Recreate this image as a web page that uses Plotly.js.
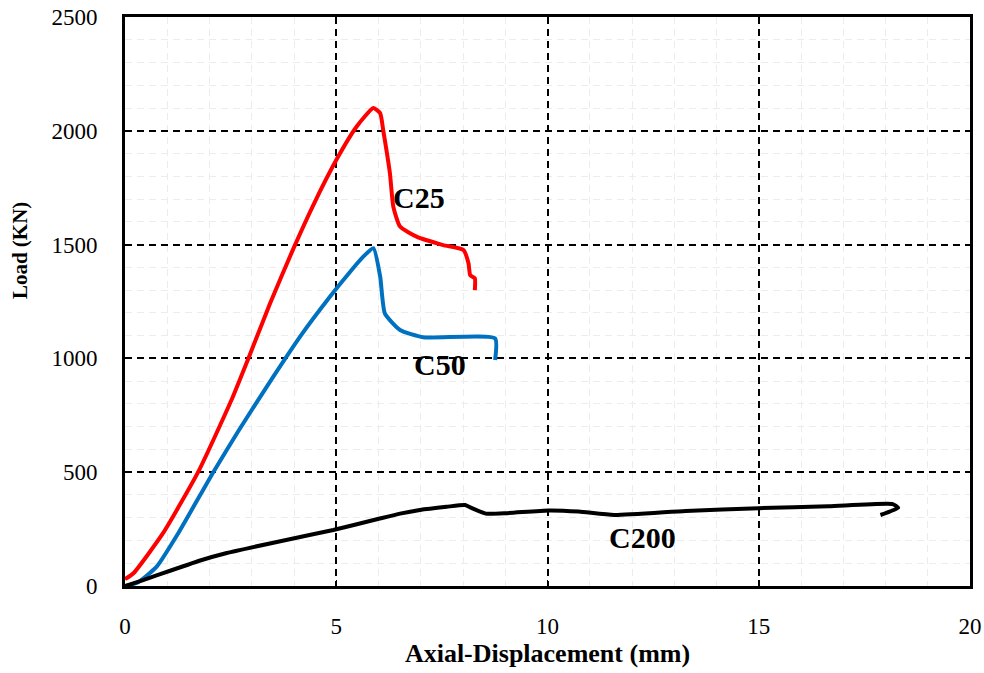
<!DOCTYPE html>
<html>
<head>
<meta charset="utf-8">
<script src="https://cdn.plot.ly/plotly-3.0.1.min.js"></script>
<style>html,body{margin:0;padding:0;background:#fff;}#chart{width:984px;height:673px;}</style>
</head>
<body>
<div id="chart"></div>
<script>
// C25 series
const c25X = [0, 0.2, 0.9, 1.73, 2.52, 2.92, 3.43, 3.98, 4.46, 5.01, 5.48, 5.88, 6.04, 6.11, 6.27, 6.35, 6.51, 6.90, 7.53, 8.01, 8.13, 8.17, 8.28, 8.28];
const c25Y = [30, 56, 232, 500, 817, 1000, 1240, 1480, 1675, 1875, 2018, 2100, 2077, 2004, 1813, 1667, 1579, 1535, 1498, 1476, 1418, 1366, 1352, 1300];
// C50 series
const c50X = [0, 0.3, 0.75, 1.26, 2.09, 2.68, 3.51, 4.14, 4.85, 5.33, 5.64, 5.88, 6.04, 6.15, 6.51, 7.06, 8.76, 8.76];
const c50Y = [0, 15, 85, 232, 500, 680, 920, 1095, 1271, 1381, 1447, 1484, 1359, 1198, 1125, 1093, 1088, 993];
// C200 series
const c200X = [0, 0.43, 1.78, 2.41, 3.98, 4.93, 5.96, 6.51, 6.98, 7.61, 8.05, 8.20, 8.54, 9.04, 10.02, 10.74, 11.58, 13.27, 15.0, 16.65, 18.17, 18.30, 17.88];
const c200Y = [0, 26, 112, 145, 209, 246, 293, 318, 334, 348, 356, 343, 318, 320, 332, 327, 312, 330, 342, 350, 360, 344, 312];
// Labels
const seriesNames = ["C25", "C50", "C200"];
const seriesColors = ["#FF0000", "#0070C0", "#000000"];
const labelX = [6.96, 7.46, 12.26];
const labelY = [1707, 975, 215];
const xTicks = [0, 5, 10, 15, 20];
const yTicks = [0, 500, 1000, 1500, 2000, 2500];

const xs = [c25X, c50X, c200X];
const ys = [c25Y, c50Y, c200Y];
const traces = seriesNames.map((n, i) => ({
  x: xs[i], y: ys[i], name: n, type: 'scatter', mode: 'lines',
  line: {color: seriesColors[i], width: 4, shape: 'spline', smoothing: 0.5}
}));

const font = {family: '"Liberation Serif", "Times New Roman", serif', color: '#000'};
const annotations = seriesNames.map((n, i) => ({
  x: labelX[i], y: labelY[i], xref: 'x', yref: 'y', text: '<b>' + n + '</b>',
  showarrow: false, font: Object.assign({}, font, {size: 30})
}));
annotations.push({
  x: -0.124, y: 0.589, xref: 'paper', yref: 'paper', text: '<b>Load (KN)</b>',
  textangle: -90, showarrow: false, xanchor: 'center', yanchor: 'middle',
  font: Object.assign({}, font, {size: 21})
});

const layout = {
  width: 984, height: 673,
  margin: {l: 125, r: 14, t: 17, b: 87},
  paper_bgcolor: '#fff', plot_bgcolor: '#fff',
  showlegend: false,
  font: font,
  xaxis: {
    range: [0, 20], tickvals: xTicks, ticktext: xTicks.map(String),
    showline: true, linecolor: '#000', linewidth: 3, mirror: true,
    ticks: 'inside', ticklen: 6, tickwidth: 1.5, tickcolor: '#000',
    ticklabelstandoff: 17,
    tickfont: Object.assign({}, font, {size: 23}),
    showgrid: true, gridcolor: '#000', gridwidth: 2, griddash: '7px,5px',
    minor: {dtick: 1, showgrid: true, gridcolor: '#ececec', gridwidth: 1, ticks: ''},
    zeroline: false,
    title: {text: '<b>Axial-Displacement (mm)</b>', font: Object.assign({}, font, {size: 26}), standoff: 3}
  },
  yaxis: {
    range: [0, 2500], tickvals: yTicks, ticktext: yTicks.map(String),
    showline: true, linecolor: '#000', linewidth: 3, mirror: true,
    ticks: 'inside', ticklen: 6, tickwidth: 1.5, tickcolor: '#000',
    ticklabelstandoff: 20,
    tickfont: Object.assign({}, font, {size: 23}),
    showgrid: true, gridcolor: '#000', gridwidth: 2, griddash: '7px,5px',
    minor: {dtick: 100, showgrid: true, gridcolor: '#ececec', gridwidth: 1, ticks: ''},
    zeroline: false
  },
  annotations: annotations
};

Plotly.newPlot('chart', traces, layout, {displayModeBar: false, staticPlot: true});
</script>
</body>
</html>
